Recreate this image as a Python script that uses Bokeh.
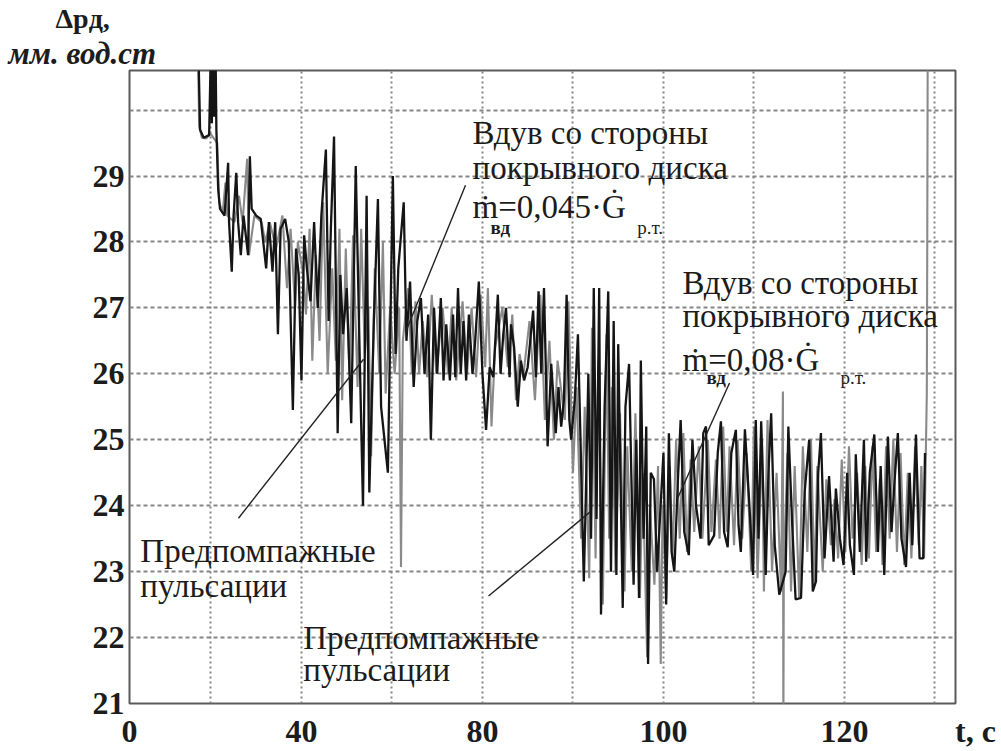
from bokeh.plotting import figure
from bokeh.models import Range1d, FixedTicker, Label, Title
from bokeh.embed import file_html
from bokeh.resources import INLINE

# ---------------- data ----------------
# time axis value t (c) and pressure drop dp (mm water column)
t_dark = [48.6, 48.8, 49.2, 49.8, 50.0, 50.1, 50.2, 50.35, 50.5, 50.6, 50.8, 51.0, 51.5, 51.9, 52.0,
          52.3, 52.5, 52.8, 53.0, 53.3, 53.6, 54.1, 54.3, 54.5, 55.0, 55.5, 56.1, 56.4, 56.8, 57.1,
          57.4, 57.7, 58.2, 58.6, 59.05, 59.4, 59.7, 60.0, 60.3, 60.6, 61.0, 61.4, 61.8, 62.2, 62.7,
          63.0, 63.25, 63.6, 64.0, 64.3, 64.6, 65.0, 65.5, 66.0, 66.4, 66.8, 67.2, 67.5, 68.0, 68.45,
          68.8, 69.55, 70.1, 70.4, 70.7, 71.3, 71.6, 72.0, 72.4, 72.8, 73.2, 73.6, 74.0, 74.3, 74.65,
          75.0, 75.4, 75.7, 76.0, 76.4, 76.75, 77.0, 77.3, 77.6, 77.9, 78.2, 78.5, 78.9, 79.2, 79.6,
          80.0, 80.4, 80.8, 81.2, 81.7, 82.0, 82.3, 82.6, 83.0, 83.15, 83.5, 83.9, 84.25, 84.6, 85.0,
          85.6, 85.9, 86.2, 86.5, 86.8, 87.2, 87.6, 88.1, 88.4, 88.7, 89.0, 89.3, 89.6, 89.8, 90.2,
          90.55, 90.8, 91.2, 91.4, 91.7, 92.0, 92.3, 92.6, 92.9, 93.1, 93.5, 93.9, 94.2, 94.5, 94.8,
          95.0, 95.5, 95.8, 96.2, 96.7, 97.0, 97.3, 97.5, 97.8, 98.1, 98.3, 98.6, 98.95, 99.3, 100.0,
          100.3, 100.6, 100.9, 101.2, 101.6, 101.9, 102.3, 102.8, 103.2, 103.6, 104.1, 104.4, 104.7, 105.0, 105.6,
          106.0, 106.35, 106.7, 107.1, 107.5, 108.0, 108.3, 108.55, 109.0, 109.5, 109.9, 110.2, 110.5, 110.8, 111.3,
          111.6, 111.9, 112.3, 112.8, 113.5, 113.8, 114.2, 114.6, 115.2, 115.6, 116.1, 116.5, 116.85, 117.1, 117.4,
          117.8, 118.3, 118.8, 119.05, 119.5, 119.9, 120.3, 120.6, 121.05, 121.25, 121.7, 122.15, 122.4, 122.8, 123.3,
          123.7, 124.0, 124.4, 124.8, 125.2, 125.5, 125.9, 126.3, 126.8, 127.2, 127.5, 127.9, 128.3, 128.7, 128.9]
dp_dark = [31.0, 29.7, 29.58, 29.62, 31.0, 29.8, 31.0, 29.9, 31.0, 29.7, 28.8, 28.5, 28.4, 29.2, 28.3,
           27.55, 28.4, 29.05, 28.3, 27.8, 28.4, 27.8, 29.3, 28.5, 28.4, 28.35, 27.6, 28.3, 27.55, 28.3,
           26.6, 28.2, 28.35, 28.0, 25.45, 27.9, 27.5, 25.9, 28.1, 27.6, 27.1, 28.3, 27.0, 28.4, 29.4,
           26.8, 28.2, 29.6, 25.1, 27.5, 26.6, 27.3, 25.25, 29.15, 26.5, 24.0, 28.7, 24.2, 26.8, 28.65,
           25.5, 24.5, 29.0, 26.3, 27.6, 28.6, 26.5, 27.4, 25.8, 26.8, 27.15, 26.0, 26.9, 25.0, 27.0,
           26.0, 27.15, 25.9, 26.75, 25.9, 26.9, 25.95, 27.3, 26.0, 26.8, 25.9, 26.9, 26.0, 26.5, 27.4,
           26.0, 25.15, 26.1, 25.95, 27.2, 26.0, 26.6, 27.0, 25.95, 26.75, 26.4, 25.5, 26.2, 25.9, 26.1,
           26.96, 25.95, 27.25, 26.0, 27.3, 24.9, 26.15, 25.1, 25.8, 25.2, 25.6, 27.2, 25.3, 25.0, 25.6,
           26.6, 25.2, 22.85, 24.0, 26.0, 23.5, 27.3, 23.8, 27.3, 22.35, 25.5, 27.25, 23.0, 26.8, 22.95,
           26.45, 22.45, 25.5, 26.15, 22.8, 25.0, 22.6, 26.2, 23.5, 25.2, 21.6, 24.5, 24.4, 23.0, 24.8,
           22.5, 25.1, 23.3, 23.0, 24.4, 25.3, 23.6, 23.25, 25.0, 24.0, 23.5, 25.1, 25.2, 23.4, 23.55,
           24.8, 25.28, 23.6, 23.37, 24.8, 25.15, 23.7, 23.3, 25.16, 24.0, 22.95, 25.3, 23.5, 25.28, 22.95,
           24.5, 25.4, 23.4, 22.65, 23.0, 25.2, 23.8, 22.58, 22.6, 24.2, 25.0, 22.7, 22.85, 24.5, 25.1,
           23.2, 24.45, 23.15, 24.26, 23.5, 23.1, 24.5, 23.4, 22.95, 24.78, 23.3, 25.0, 23.15, 24.5, 25.08,
           23.3, 24.6, 22.95, 25.05, 23.6, 24.3, 25.1, 23.5, 23.07, 24.5, 23.4, 25.08, 23.2, 23.2, 24.8]

t_gray = [48.55, 48.7, 49.0, 49.5, 49.9, 50.7, 50.9, 51.3, 51.6, 51.8, 52.6, 53.1, 53.5, 54.0, 54.2,
          54.8, 55.6, 56.0, 56.5, 57.2, 57.9, 58.4, 58.8, 59.3, 59.6, 60.2, 60.5, 60.9, 61.2, 61.6,
          62.0, 62.4, 62.9, 63.4, 63.8, 64.2, 64.5, 64.9, 65.3, 65.7, 66.2, 66.6, 67.0, 67.4, 67.7,
          68.1, 68.6, 69.0, 69.3, 69.8, 70.3, 70.8, 71.0, 71.2, 71.8, 72.2, 72.6, 73.0, 73.4, 73.9,
          74.4, 74.9, 75.6, 76.2, 76.6, 77.1, 77.8, 78.3, 78.8, 79.3, 79.8, 80.3, 80.6, 81.0, 81.4,
          82.2, 82.8, 83.3, 83.7, 84.1, 84.5, 85.2, 85.8, 86.4, 86.9, 87.4, 87.9, 88.3, 89.1, 89.5,
          90.0, 90.4, 90.9, 91.3, 91.8, 92.1, 92.5, 92.8, 93.3, 93.7, 94.0, 94.3, 94.7, 95.2, 95.7,
          96.0, 96.5, 96.9, 97.4, 97.7, 98.2, 98.5, 99.0, 99.4, 99.7, 99.9, 100.3, 100.7, 101.0, 101.4,
          101.8, 102.2, 102.6, 103.0, 103.4, 103.9, 104.3, 104.9, 105.3, 105.8, 106.2, 106.6, 107.0, 107.3, 107.8,
          108.2, 108.7, 109.2, 109.7, 110.0, 110.4, 110.9, 111.1, 111.5, 112.0, 112.5, 113.0, 113.2, 113.25, 113.3,
          113.7, 114.1, 114.5, 115.0, 115.4, 115.9, 116.3, 116.7, 117.0, 117.6, 118.0, 118.5, 118.9, 119.3, 119.7,
          120.1, 120.5, 120.9, 121.4, 121.9, 122.3, 122.7, 123.1, 123.5, 123.9, 124.2, 124.6, 125.0, 125.4, 125.8,
          126.2, 126.6, 127.0, 127.4, 127.8, 128.2, 128.5, 128.8, 129.1, 129.15, 129.2]
dp_gray = [31.0, 29.75, 29.58, 29.57, 29.65, 29.5, 28.6, 28.45, 28.9, 28.4, 28.3, 28.7, 28.3, 29.26, 27.8,
           28.4, 28.3, 28.0, 28.3, 27.9, 28.4, 27.3, 28.2, 27.0, 28.0, 27.5, 26.9, 28.2, 26.2, 27.8,
           26.5, 28.6, 26.0, 27.6, 26.2, 28.2, 25.6, 27.9, 26.0, 28.1, 25.8, 28.2, 26.3, 27.0, 24.75,
           27.6, 26.0, 28.0, 25.7, 27.0, 26.0, 27.0, 23.07, 26.5, 27.3, 26.0, 27.1, 26.0, 26.8, 25.95,
           27.2, 26.0, 27.0, 26.0, 27.0, 25.9, 27.1, 26.0, 27.0, 25.95, 27.2, 26.1, 27.3, 25.2, 26.4,
           27.0, 26.1, 26.9, 25.6, 26.3, 25.95, 26.8, 25.6, 27.2, 25.3, 26.5, 25.0, 26.2, 25.3, 27.1,
           24.5, 25.8, 23.5, 25.5, 22.9, 26.7, 23.2, 26.2, 22.5, 26.6, 23.5, 25.8, 23.0, 25.4, 22.7,
           24.9, 23.0, 25.4, 22.6, 24.5, 21.7, 24.0, 22.8, 24.6, 21.6, 24.0, 22.6, 24.6, 23.2, 25.0,
           23.5, 25.1, 23.3, 24.7, 23.6, 24.9, 23.5, 25.0, 23.6, 24.7, 23.5, 25.2, 23.6, 24.9, 23.4,
           25.0, 23.5, 24.8, 23.0, 25.2, 22.9, 25.0, 22.7, 25.3, 23.0, 24.5, 22.7, 25.73, 20.5, 23.0,
           24.8, 22.7, 24.6, 22.6, 24.9, 23.3, 25.0, 22.8, 24.6, 23.0, 24.4, 23.4, 24.1, 23.2, 24.7,
           23.3, 24.9, 23.5, 24.5, 23.1, 24.6, 23.2, 24.9, 23.3, 24.4, 23.1, 24.9, 23.5, 25.0, 23.3,
           24.8, 23.1, 24.5, 23.2, 24.9, 23.4, 24.6, 23.2, 25.7, 28.0, 31.0]

X_START, X_END = 41, 132.27
x_tick_values = [41, 60, 80, 100, 120]
x_tick_labels = ["0", "40", "80", "100", "120"]
x_grid_values = [50, 60, 70, 80, 90, 100, 110, 120, 130]
y_tick_values = [21, 22, 23, 24, 25, 26, 27, 28, 29]
y_grid_values = [22, 23, 24, 25, 26, 27, 28, 29, 30]

# texts
x_title = "t, c"
y_title_1 = "Δpд,"
y_title_2 = "мм. вод.ст"
note_top_1 = "Вдув со стороны"
note_top_2 = "покрывного диска"
formula_1 = "ṁ=0,045·Ġ"
formula_2 = "ṁ=0,08·Ġ"
sub_m = "вд"
sub_g = "р.т."
surge_1 = "Предпомпажные"
surge_2 = "пульсации"

# ---------------- figure ----------------
p = figure(width=1001, height=751, x_range=Range1d(X_START, X_END), y_range=Range1d(21, 30.6),
           output_backend="svg", toolbar_location=None,
           min_border_left=129, min_border_right=46, min_border_top=70, min_border_bottom=45)
p.background_fill_color = "white"
p.border_fill_color = "white"
p.outline_line_color = "#5a5a5a"
p.outline_line_width = 2

FONT = "Liberation Serif"
INK = "#1c1c1c"

overrides = {v: s for v, s in zip(x_tick_values, x_tick_labels)}
overrides[X_END] = "\u00a0" * 5 + x_title
p.xaxis.ticker = FixedTicker(ticks=x_tick_values + [X_END])
p.xaxis.major_label_overrides = overrides
p.yaxis.ticker = FixedTicker(ticks=y_tick_values)
for ax in (p.xaxis, p.yaxis):
    ax.axis_line_color = None
    ax.major_tick_line_color = None
    ax.minor_tick_line_color = None
    ax.major_tick_out = 0
    ax.major_tick_in = 0
    ax.major_label_text_font = FONT
    ax.major_label_text_font_style = "bold"
    ax.major_label_text_font_size = "32px"
    ax.major_label_text_color = INK
p.xaxis.major_label_standoff = 9
p.yaxis.major_label_standoff = 5

p.xgrid.ticker = FixedTicker(ticks=x_grid_values)
p.ygrid.ticker = FixedTicker(ticks=y_grid_values)
p.xgrid.grid_line_color = "#858585"
p.xgrid.grid_line_width = 2
p.xgrid.grid_line_dash = "2 3"
p.ygrid.grid_line_color = "#858585"
p.ygrid.grid_line_width = 2
p.ygrid.grid_line_dash = "4 3"

# axis title at the top-left (two rows above the frame)
p.title.visible = False
p.add_layout(Title(text=y_title_2, text_font=FONT, text_font_size="31px", text_font_style="bold italic",
                   text_color=INK, align="left", offset=-121, standoff=0), "above")
p.add_layout(Title(text=y_title_1, text_font=FONT, text_font_size="28px", text_font_style="bold",
                   text_color=INK, align="left", offset=-74, standoff=0), "above")

# traces
p.line(t_gray, dp_gray, line_color="#8a8a8a", line_width=2.1)
p.line(t_dark, dp_dark, line_color="#151515", line_width=2.3)

# leader lines (annotation positions in data units)
lead_x0 = [78.13, 53.04, 80.67, 107.3]
lead_y0 = [28.86, 23.81, 22.63, 25.86]
lead_x1 = [71.5, 66.86, 91.94, 101.55]
lead_y1 = [26.63, 26.22, 23.91, 24.11]
p.segment(lead_x0, lead_y0, lead_x1, lead_y1, line_color="#222222", line_width=1.4)


def lab(x, y, text, size, style="normal", align="left"):
    p.add_layout(Label(x=x, y=y, text=text, text_font=FONT, text_font_size=f"{size}px",
                       text_font_style=style, text_color=INK, text_align=align,
                       text_baseline="alphabetic"))


# annotation 1
lab(78.9, 29.65, note_top_1, 33)
lab(78.9, 29.12, note_top_2, 33)
lab(78.9, 28.53, formula_1, 33)
lab(80.9, 28.22, sub_m, 19, "bold")
lab(97.1, 28.22, sub_g, 19)
# annotation 2
lab(102.1, 27.38, note_top_1, 33)
lab(102.1, 26.87, note_top_2, 33)
lab(102.1, 26.21, formula_2, 33)
lab(104.75, 25.95, sub_m, 19, "bold")
lab(119.56, 25.95, sub_g, 19)
# surge labels
lab(42.2, 23.31, surge_1, 33)
lab(42.2, 22.78, surge_2, 33)
lab(60.2, 22.0, surge_1, 33)
lab(60.2, 21.51, surge_2, 33)

open("out.html", "w").write(file_html(p, INLINE))
